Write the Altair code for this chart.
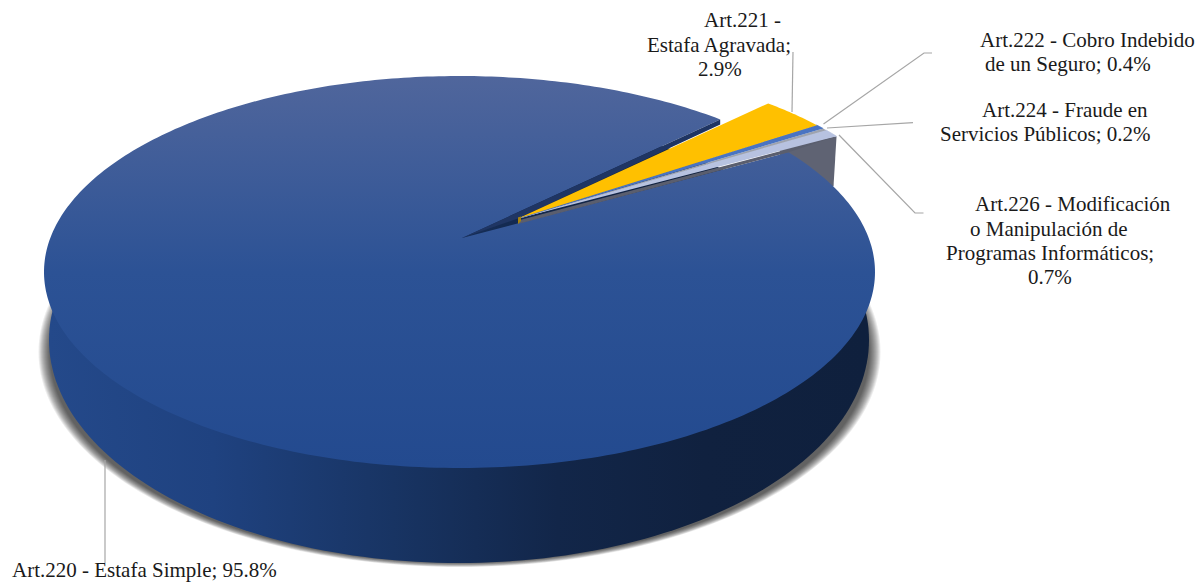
import numpy as np
import pandas as pd
import altair as alt

# ---- data ----
CATEGORIES = ["Art.220", "Art.221", "Art.222", "Art.224", "Art.226"]
SHARES = [95.8, 2.9, 0.4, 0.2, 0.7]
SLICE_COLORS = [None, "#FFC000", "#4A74C2", "#9EA3AE", "#B7C2E0"]
FIRST_ANGLE = 29.3  # degrees, slices run clockwise from here

LABEL_TEXT = ["Art.221 -", "Estafa Agravada;", "2.9%",
              "Art.222 - Cobro Indebido", "de un Seguro; 0.4%",
              "Art.224 - Fraude en", "Servicios Públicos; 0.2%",
              "Art.226 - Modificación", "o Manipulación de", "Programas Informáticos;", "0.7%",
              "Art.220 - Estafa Simple; 95.8%"]
LABEL_X = [704, 647, 698, 980, 985, 982, 940, 975, 970, 946, 1028, 12]
LABEL_Y = [21, 46, 70, 41, 65, 111, 135, 205, 230, 254, 278, 571]

LEADERS_X = [[105, 105], [793, 792], [932, 924, 823.5], [913, 827], [839, 915, 923.5]]
LEADERS_Y = [[460, 563], [52, 112], [53, 53, 124], [122.7, 128], [135, 213, 213]]

# ---- pie geometry ----
TOP = dict(cx=459.5, cy=272, rx=415.5, ry=196)
BASE = dict(cx=459, cy=340, rx=410, ry=223)
TILT = 0.173
CENTRE = (462, 238)
SMALL_APEX = (518, 218.5)
SMALL_SHIFT = (48, -16)

X = alt.X("x:Q", scale=alt.Scale(domain=[8, 1196], range=[0, 1188]), axis=None)
Y = alt.Y("y:Q", scale=alt.Scale(domain=[8, 582], range=[0, 574]), axis=None)


def rim(deg, shift=(0, 0)):
    a = np.radians(np.asarray(deg, dtype=float))
    d = 1 + TILT * np.sin(a)
    u = np.cos(a) * np.sqrt(1 - TILT ** 2) / d
    v = (np.sin(a) + TILT) / d
    return (TOP["cx"] + TOP["rx"] * u + shift[0], TOP["cy"] - TOP["ry"] * v + shift[1])


def ellipse(cx, cy, rx, ry, n=240):
    t = np.linspace(0, 2 * np.pi, n, endpoint=False)
    return cx + rx * np.cos(t), cy + ry * np.sin(t)


def poly(xs, ys, fill, opacity=1.0, edge=0):
    df = pd.DataFrame({"x": xs, "y": ys, "i": range(len(xs))})
    kw = dict(stroke=fill, strokeWidth=edge) if edge else dict(strokeWidth=0)
    return alt.Chart(df).mark_line(fill=fill, fillOpacity=opacity, clip=False, **kw).encode(
        x=X, y=Y, order=alt.Order("i:Q"))


def gradient(stops, x2=0, y2=1):
    return alt.LinearGradient(
        gradient="linear", x1=0, y1=0, x2=x2, y2=y2,
        stops=[alt.GradientStop(offset=o, color=c) for o, c in stops])


layers = []

# soft shadow under the disc
for k in range(12):
    ex, ey = ellipse(459.5, 352, 421 - 1.0 * k, 215 - 0.4 * k)
    layers.append(poly(ex, ey, "#000000", 0.075))

# side wall
bx, by = ellipse(BASE["cx"], BASE["cy"], BASE["rx"], BASE["ry"])
layers.append(poly(bx, by, gradient([(0, "#24498A"), (0.2, "#1F4280"), (0.42, "#183463"),
                                     (0.62, "#122649"), (0.8, "#10213F"), (1, "#0F203D")],
                                    x2=1, y2=0)))

# slice angles
edges = FIRST_ANGLE - np.cumsum([0] + [s * 3.6 for s in SHARES])

# cut face seen behind the small slices
lx2, ly2 = rim(edges[5], SMALL_SHIFT)
layers.append(poly([780, lx2, lx2 - 3, 780], [148, ly2, ly2 + 50, 190], "#5F6373"))

# main slice
big = np.linspace(edges[0], edges[1], 360)
mx, my = rim(big)
layers.append(poly(np.r_[CENTRE[0], mx], np.r_[CENTRE[1], my],
                   gradient([(0, "#50669C"), (0.5, "#2C5295"), (1, "#234A8F")])))

# inner face beside the main slice
ex, ey = rim(edges[1])
layers.append(poly([CENTRE[0], ex, ex, SMALL_APEX[0]],
                   [CENTRE[1], ey, ey + 5, SMALL_APEX[1]], "#1F3563"))

# shaded strip under the small slices
sx, sy = rim(edges[0])
layers.append(poly([SMALL_APEX[0], lx2, sx, SMALL_APEX[0]],
                   [SMALL_APEX[1] + 2, ly2, sy, SMALL_APEX[1] + 5.5], "#5A5E6E"))

# small exploded slices, thin ones with a hairline of their own colour
for i in [4, 3, 2, 1]:
    t = np.linspace(edges[i], edges[i + 1], 20)
    ax, ay = rim(t, SMALL_SHIFT)
    layers.append(poly(np.r_[SMALL_APEX[0], ax], np.r_[SMALL_APEX[1], ay], SLICE_COLORS[i],
                       edge=1.0 if i in (2, 4) else 0))
layers.append(poly([518, 521, 521, 518], [217.5, 216.5, 221, 224], "#A8830A"))

# leader lines
for lxs, lys in zip(LEADERS_X, LEADERS_Y):
    df = pd.DataFrame({"x": lxs, "y": lys, "i": range(len(lxs))})
    layers.append(alt.Chart(df).mark_line(stroke="#A6A6A6", strokeWidth=1.2).encode(
        x=X, y=Y, order=alt.Order("i:Q")))

# labels
labels = pd.DataFrame({"x": LABEL_X, "y": LABEL_Y, "t": LABEL_TEXT})
layers.append(alt.Chart(labels).mark_text(align="left", baseline="middle", font="Liberation Serif",
                                          fontSize=21, color="#1A1A1A").encode(x=X, y=Y, text="t:N"))

chart = alt.layer(*layers).properties(
    width=1188, height=574, padding=0, background="white",
    autosize=alt.AutoSizeParams(type="none")
).configure_view(stroke=None)

chart.save("out.html", embed_options={"renderer": "svg", "actions": False})
